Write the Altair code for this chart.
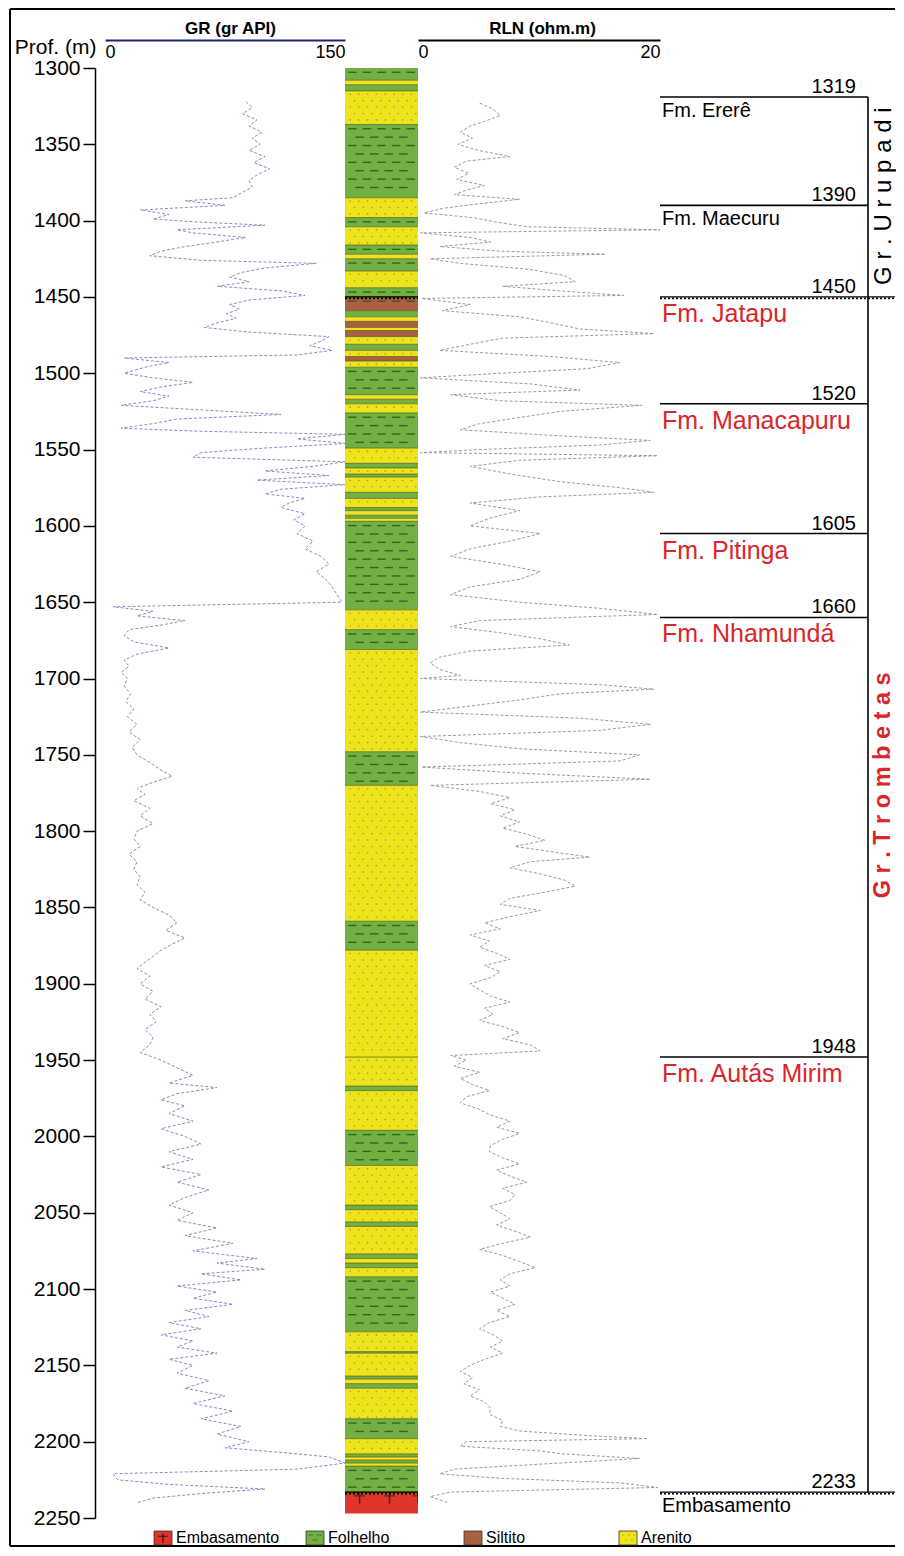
import altair as alt
import pandas as pd

# ---------------- data ----------------
gr_depth = [1322, 1326, 1330, 1334, 1338, 1342, 1346, 1350, 1354, 1358, 1362, 1366, 1370, 1374, 1378,
            1382, 1385, 1387, 1390, 1393, 1396, 1399, 1401, 1403, 1406, 1408, 1411, 1414, 1417, 1420,
            1423, 1426, 1428, 1431, 1434, 1437, 1440, 1443, 1446, 1449, 1452, 1455, 1458, 1461, 1464,
            1467, 1470, 1473, 1476, 1479, 1482, 1485, 1488, 1490, 1493, 1496, 1500, 1503, 1506, 1509,
            1512, 1515, 1518, 1521, 1524, 1527, 1530, 1533, 1536, 1538, 1540, 1543, 1546, 1549, 1552,
            1555, 1558, 1561, 1564, 1567, 1570, 1573, 1576, 1579, 1582, 1585, 1588, 1592, 1596, 1600,
            1605, 1610, 1615, 1620, 1625, 1630, 1635, 1640, 1645, 1650, 1653, 1656, 1659, 1662, 1665,
            1668, 1672, 1676, 1680, 1684, 1688, 1692, 1696, 1700, 1705, 1710, 1715, 1720, 1725, 1730,
            1735, 1740, 1745, 1750, 1755, 1760, 1764, 1768, 1772, 1776, 1780, 1785, 1790, 1795, 1800,
            1805, 1810, 1815, 1820, 1825, 1830, 1835, 1840, 1845, 1850, 1855, 1860, 1865, 1870, 1874,
            1878, 1882, 1886, 1890, 1895, 1900, 1905, 1910, 1915, 1920, 1925, 1930, 1935, 1940, 1945,
            1950, 1955, 1960, 1965, 1968, 1972, 1976, 1980, 1985, 1990, 1995, 2000, 2005, 2010, 2015,
            2020, 2025, 2030, 2035, 2040, 2045, 2050, 2055, 2060, 2065, 2070, 2075, 2080, 2083, 2087,
            2090, 2094, 2098, 2102, 2106, 2110, 2114, 2118, 2122, 2126, 2130, 2134, 2138, 2142, 2146,
            2150, 2155, 2160, 2165, 2170, 2175, 2180, 2185, 2190, 2195, 2200, 2204, 2207, 2210, 2214,
            2218, 2221, 2225, 2228, 2231, 2234, 2237, 2240]
gr_value = [88, 92, 86, 95, 90, 98, 92, 97, 90, 100, 93, 103, 95, 90, 92,
            85, 80, 50, 75, 22, 40, 30, 60, 100, 45, 55, 88, 70, 50, 35,
            28, 60, 132, 100, 85, 78, 90, 70, 110, 125, 90, 78, 84, 76, 82,
            70, 62, 90, 140, 135, 128, 142, 120, 12, 40, 25, 12, 30, 55, 35,
            22, 40, 30, 10, 60, 110, 45, 30, 10, 60, 150, 120, 150, 100, 60,
            55, 150, 130, 100, 140, 95, 150, 110, 100, 125, 115, 110, 125, 118, 125,
            120, 130, 125, 135, 140, 132, 138, 142, 145, 148, 5, 30, 20, 50, 35,
            15, 12, 18, 40, 20, 12, 15, 10, 14, 12, 16, 13, 18, 14, 20,
            15, 22, 17, 20, 28, 35, 42, 30, 20, 25, 18, 28, 22, 30, 20,
            18, 22, 15, 20, 18, 22, 20, 25, 22, 30, 40, 45, 38, 50, 42,
            35, 30, 25, 20, 28, 22, 30, 25, 35, 28, 32, 25, 30, 28, 22,
            35, 45, 55, 40, 70, 45, 35, 50, 40, 55, 35, 50, 60, 40, 55,
            35, 60, 45, 65, 50, 40, 55, 45, 70, 50, 80, 55, 95, 70, 100,
            60, 85, 45, 70, 55, 80, 50, 65, 40, 60, 35, 55, 45, 70, 40,
            55, 45, 65, 50, 75, 55, 80, 60, 85, 70, 90, 75, 110, 140, 150,
            120, 5, 8, 40, 100, 60, 30, 20]

rln_depth = [1323, 1327, 1331, 1335, 1338, 1342, 1346, 1350, 1354, 1358, 1361, 1365, 1369, 1373, 1377,
             1380, 1383, 1386, 1389, 1392, 1395, 1398, 1401, 1404, 1406, 1408, 1411, 1414, 1417, 1420,
             1422, 1425, 1428, 1432, 1436, 1440, 1443, 1446, 1449, 1451, 1455, 1459, 1463, 1467, 1471,
             1474, 1477, 1481, 1485, 1489, 1493, 1497, 1500, 1503, 1507, 1511, 1514, 1518, 1521, 1525,
             1529, 1533, 1537, 1541, 1544, 1547, 1550, 1552, 1554, 1557, 1561, 1566, 1571, 1575, 1578,
             1581, 1585, 1590, 1595, 1600, 1605, 1610, 1615, 1620, 1625, 1630, 1635, 1640, 1645, 1650,
             1654, 1658, 1662, 1666, 1670, 1674, 1678, 1682, 1686, 1690, 1694, 1698, 1700, 1704, 1707,
             1710, 1714, 1718, 1722, 1726, 1730, 1734, 1738, 1742, 1746, 1750, 1754, 1758, 1762, 1766,
             1770, 1774, 1778, 1782, 1786, 1790, 1794, 1798, 1802, 1806, 1810, 1814, 1817, 1820, 1824,
             1828, 1832, 1836, 1840, 1844, 1848, 1852, 1856, 1860, 1864, 1868, 1872, 1876, 1880, 1884,
             1888, 1892, 1896, 1900, 1904, 1908, 1912, 1916, 1920, 1924, 1928, 1932, 1936, 1940, 1944,
             1947, 1950, 1954, 1958, 1962, 1966, 1970, 1974, 1978, 1982, 1986, 1990, 1994, 1998, 2002,
             2006, 2010, 2014, 2018, 2022, 2026, 2030, 2034, 2038, 2042, 2046, 2050, 2054, 2058, 2062,
             2066, 2070, 2074, 2078, 2082, 2086, 2090, 2094, 2098, 2102, 2106, 2110, 2114, 2118, 2122,
             2126, 2130, 2134, 2138, 2142, 2146, 2150, 2154, 2158, 2162, 2166, 2170, 2174, 2178, 2182,
             2186, 2190, 2193, 2196, 2198, 2200, 2203, 2206, 2208, 2211, 2214, 2218, 2221, 2224, 2227,
             2230, 2233, 2236, 2240]
rln_value = [5.1, 6.2, 6.8, 5.5, 4.3, 3.5, 4.5, 3.3, 5.0, 7.6, 4.0, 3.0, 4.2, 3.2, 5.5,
             4.0, 3.0, 8.4, 5.0, 2.0, 0.5, 4.5, 6.5, 9.0, 20.0, 0.2, 4.3, 6.0, 1.8, 6.8,
             15.5, 1.0, 3.5, 9.3, 12.1, 13.0, 7.0, 11.7, 17.0, 0.3, 4.3, 2.0, 8.4, 11.0, 13.4,
             19.5, 7.0, 4.3, 1.8, 10.9, 16.7, 14.0, 6.8, 0.2, 9.3, 13.4, 2.7, 6.8, 18.5, 11.7,
             8.4, 5.1, 3.5, 11.7, 19.2, 15.0, 5.1, 0.2, 19.8, 8.4, 4.3, 7.6, 11.7, 16.7, 19.5,
             10.1, 4.3, 8.4, 5.9, 4.3, 10.1, 7.6, 4.3, 2.7, 6.8, 10.1, 8.4, 4.3, 2.7, 8.4,
             15.0, 19.8, 5.1, 2.7, 6.8, 10.1, 12.5, 4.3, 1.8, 1.0, 1.8, 3.5, 0.2, 15.0, 19.5,
             11.7, 8.4, 4.3, 0.2, 13.4, 19.2, 15.0, 0.2, 3.5, 8.4, 18.3, 16.7, 0.3, 8.4, 19.2,
             1.0, 5.1, 7.6, 6.0, 8.0, 6.8, 8.4, 7.0, 9.0, 10.5, 8.0, 11.5, 14.2, 9.3, 7.6,
             10.1, 12.1, 13.0, 10.5, 7.6, 6.8, 10.1, 7.6, 5.5, 6.8, 4.3, 5.9, 5.1, 6.5, 7.6,
             5.5, 6.8, 6.0, 4.3, 5.1, 6.0, 7.6, 5.5, 6.2, 5.1, 7.0, 8.4, 7.0, 9.3, 10.1,
             2.7, 4.0, 3.0, 5.1, 3.5, 4.5, 5.9, 4.0, 3.5, 5.0, 6.0, 7.6, 6.5, 8.4, 7.0,
             6.0, 5.9, 7.0, 8.4, 6.5, 7.6, 9.0, 7.0, 8.0, 7.6, 5.9, 6.8, 7.6, 6.5, 8.0,
             9.3, 7.0, 5.1, 7.0, 8.4, 9.7, 7.6, 6.8, 7.6, 6.0, 7.0, 8.0, 6.5, 7.6, 5.9,
             5.1, 6.2, 7.0, 6.0, 7.0, 5.5, 4.3, 3.5, 4.5, 3.8, 5.1, 4.3, 5.5, 6.0, 5.9,
             7.0, 6.8, 8.4, 14.0, 19.0, 4.0, 3.5, 10.0, 12.0, 18.3, 11.7, 3.0, 1.8, 6.8, 16.7,
             19.8, 2.7, 1.0, 2.5]

litho_names = ["Embasamento", "Folhelho", "Siltito", "Arenito"]
litho_colors = ["#e0352b", "#72b043", "#a8603f", "#efe31c"]
litho_code = {"E": "Embasamento", "F": "Folhelho", "S": "Siltito", "A": "Arenito"}

lith_type = ["F", "A", "F", "A", "F", "A", "F", "A", "F", "A", "F", "A", "F", "S", "F",
             "A", "S", "A", "S", "A", "F", "A", "S", "A", "F", "A", "F", "A", "F", "A",
             "F", "A", "F", "A", "F", "A", "F", "A", "F", "A", "F", "A", "F", "A", "F",
             "A", "F", "A", "A", "F", "A", "F", "A", "F", "A", "F", "A", "F", "A", "F",
             "A", "F", "A", "F", "A", "F", "A", "F", "A", "F", "A", "F", "A", "F", "A",
             "F", "E"]
lith_top = [1300, 1308, 1311, 1315, 1337, 1385, 1398, 1404, 1416, 1422, 1425, 1433, 1444, 1450, 1459,
            1463, 1466, 1470, 1472, 1476, 1481, 1485, 1489, 1492, 1496, 1514, 1517, 1520, 1526, 1549,
            1559, 1562, 1566, 1568, 1578, 1582, 1588, 1590, 1593, 1595, 1597, 1655, 1668, 1681, 1748,
            1770, 1859, 1878, 1948, 1967, 1970, 1996, 2019, 2045, 2048, 2056, 2059, 2077, 2080, 2083,
            2086, 2092, 2128, 2141, 2142, 2157, 2159, 2162, 2165, 2185, 2198, 2208, 2210, 2212, 2214,
            2216, 2233]
lith_base = lith_top[1:] + [2247]

fm_depth = [1319, 1390, 1450, 1520, 1605, 1660, 1948, 2233]
fm_name = ["Fm. Ererê", "Fm. Maecuru", "Fm. Jatapu", "Fm. Manacapuru", "Fm. Pitinga",
           "Fm. Nhamundá", "Fm. Autás Mirim", "Embasamento"]
fm_group = ["Urupadi", "Urupadi", "Trombetas", "Trombetas", "Trombetas", "Trombetas",
            "Trombetas", "Embasamento"]
fm_contact = ["normal", "normal", "erosive", "normal", "normal", "normal", "normal", "erosive"]

group_name = ["Gr. Urupadi", "Gr. Trombetas"]
group_top = [1319, 1450]
group_base = [1450, 2233]
group_label_depth = [1384, 1770]
group_bold = ["normal", "bold"]

depth_ticks = list(range(1300, 2251, 50))

# ---------------- layout / style ----------------
FONT = "Liberation Sans"
RED = "#d9262b"
H = 1450
W_GR, W_LITH, W_RLN, W_FM = 240, 73, 242, 235
BRACKET_X = 208
FRAME_BOTTOM = 1478
LEG_Y = 1470

ysc = alt.Scale(domain=[1300, 2250], reverse=True, nice=False, zero=False)
fsc = alt.Scale(domain=[0, 1], nice=False, zero=False)
one = pd.DataFrame({"k": [0]})

# ---------------- GR panel ----------------
gr_df = pd.DataFrame({"depth": gr_depth, "gr": gr_value})
gr_line = alt.Chart(gr_df).mark_line(
    color="#7d7db8", strokeWidth=1, strokeDash=[3, 2], clip=True, opacity=0.9
).encode(
    x=alt.X("gr:Q", scale=alt.Scale(domain=[0, 150], nice=False, zero=False),
            axis=alt.Axis(orient="top", values=[0, 150], offset=28, ticks=False, tickSize=0,
                          grid=False, domainColor="#1c2470", domainWidth=2,
                          labelPadding=-3, labelBaseline="top", labelFlush=True,
                          labelFontSize=18, labelColor="black", labelFont=FONT,
                          title="GR (gr API)", titleFontSize=17, titleFontWeight="bold",
                          titleFont=FONT, titleColor="black", titleX=125, titleY=-3,
                          titleBaseline="bottom", titleAlign="center")),
    y=alt.Y("depth:Q", scale=ysc,
            axis=alt.Axis(orient="left", offset=10, values=depth_ticks, format="d", tickSize=12,
                          tickWidth=1.5, tickColor="black", domainColor="black",
                          domainWidth=1.5, labelFontSize=21, labelColor="black",
                          labelFont=FONT, labelPadding=3, grid=False,
                          title="Prof. (m)", titleAngle=0, titleAlign="right",
                          titleX=1, titleY=-21, titleBaseline="middle", titleFontSize=21,
                          titleFontWeight="normal", titleFont=FONT, titleColor="black")),
    order="depth:Q",
)

frame_top = alt.Chart(one).mark_rule(color="black", strokeWidth=2).encode(
    x=alt.value(-95), x2=alt.value(790), y=alt.value(-59))
frame_left = alt.Chart(one).mark_rule(color="black", strokeWidth=2).encode(
    x=alt.value(-95), y=alt.value(-59), y2=alt.value(FRAME_BOTTOM))
frame_bottom = alt.Chart(one).mark_rule(color="black", strokeWidth=2).encode(
    x=alt.value(-95), x2=alt.value(790), y=alt.value(FRAME_BOTTOM))

legend_layers = []
legend_swatch_x = [49, 201, 359, 514]
for name, sx in zip(litho_names, legend_swatch_x):
    col = litho_colors[litho_names.index(name)]
    ldf = pd.DataFrame({"name": [name]})
    legend_layers.append(alt.Chart(ldf).mark_rect(fill=col, stroke="#333333", strokeWidth=0.8).encode(
        x=alt.value(sx), x2=alt.value(sx + 18), y=alt.value(LEG_Y - 7), y2=alt.value(LEG_Y + 7)))
    legend_layers.append(alt.Chart(ldf).mark_text(
        align="left", baseline="middle", fontSize=16, font=FONT, color="black").encode(
        text="name:N", x=alt.value(sx + 22), y=alt.value(LEG_Y)))
# swatch textures (cross / dashes / dots)
legend_layers.append(alt.Chart(one).mark_point(
    shape="M-1,-0.5L1,-0.5L1,-0.25L-1,-0.25Z M-0.14,-0.9L0.14,-0.9L0.14,1L-0.14,1Z",
    filled=True, color="black", size=90, strokeWidth=0).encode(
    x=alt.value(legend_swatch_x[0] + 9), y=alt.value(LEG_Y)))
for dx, dy in [(5, -3), (13, -3), (9, 2)]:
    legend_layers.append(alt.Chart(one).mark_point(
        shape="M-1,-0.2L1,-0.2L1,0.2L-1,0.2Z", filled=True, color="#2c5a1a", size=25,
        strokeWidth=0).encode(x=alt.value(legend_swatch_x[1] + dx), y=alt.value(LEG_Y + dy)))
for dx, dy in [(4, -3), (10, -3), (15, -3), (7, 2), (13, 2)]:
    legend_layers.append(alt.Chart(one).mark_circle(size=2.5, color="#8f8a2a").encode(
        x=alt.value(legend_swatch_x[3] + dx), y=alt.value(LEG_Y + dy)))

gr_panel = alt.layer(gr_line, frame_top, frame_left, frame_bottom, *legend_layers).properties(
    width=W_GR, height=H)

# ---------------- Lithology panel ----------------
lith_df = pd.DataFrame({"type": [litho_code[c] for c in lith_type], "top": lith_top,
                        "base": lith_base})

rects = alt.Chart(lith_df).mark_rect().encode(
    x=alt.value(0), x2=alt.value(W_LITH),
    y=alt.Y("top:Q", scale=ysc, axis=None), y2="base:Q",
    color=alt.Color("type:N", scale=alt.Scale(domain=litho_names, range=litho_colors), legend=None),
)

dash_rows, dot_rows, cross_rows = [], [], []
for t, a, b in zip(lith_df["type"], lith_top, lith_base):
    if t in ("Folhelho", "Siltito") and b - a >= 4.5:
        d, k = a + 2.8, 0
        while d < b - 1.5:
            xs = [0.1, 0.3, 0.5, 0.7, 0.9] if k % 2 == 0 else [0.2, 0.4, 0.6, 0.8]
            for xf in xs:
                dash_rows.append({"depth": d, "f": xf})
            d += 5.5
            k += 1
    elif t == "Arenito":
        d, k = a + 2.2, 0
        while d < b - 1.0:
            xs = [0.07 + 0.12 * i for i in range(8)] if k % 2 == 0 else [0.13 + 0.12 * i for i in range(8)]
            for xf in xs:
                dot_rows.append({"depth": d, "f": xf})
            d += 4.2
            k += 1
    elif t == "Embasamento":
        for xf in [0.2, 0.61, 1.0]:
            cross_rows.append({"depth": a + 4, "f": xf})

dashes = alt.Chart(pd.DataFrame(dash_rows)).mark_point(
    shape="M-1,-0.16L1,-0.16L1,0.16L-1,0.16Z", filled=True, size=72,
    color="#2c5a1a", opacity=0.9, strokeWidth=0).encode(
    x=alt.X("f:Q", scale=fsc, axis=None), y=alt.Y("depth:Q", scale=ysc, axis=None))
dots = alt.Chart(pd.DataFrame(dot_rows)).mark_circle(size=2.5, color="#8f8a2a", opacity=0.8).encode(
    x=alt.X("f:Q", scale=fsc, axis=None), y=alt.Y("depth:Q", scale=ysc, axis=None))
crosses = alt.Chart(pd.DataFrame(cross_rows)).mark_point(
    shape="M-1,-0.55L1,-0.55L1,-0.3L-1,-0.3Z M-0.14,-0.9L0.14,-0.9L0.14,1L-0.14,1Z",
    filled=True, size=120, color="#1a1a1a", strokeWidth=0, clip=True).encode(
    x=alt.X("f:Q", scale=fsc, axis=None), y=alt.Y("depth:Q", scale=ysc, axis=None))
bounds_lines = alt.Chart(lith_df.iloc[1:]).mark_rule(color="#4d5a1c", strokeWidth=0.9, opacity=0.75).encode(
    x=alt.value(0), x2=alt.value(W_LITH), y=alt.Y("top:Q", scale=ysc, axis=None))

fm_df = pd.DataFrame({"depth": fm_depth, "name": fm_name, "group": fm_group,
                      "contact": fm_contact, "label": [str(v) for v in fm_depth]})
ero = alt.Chart(fm_df).transform_filter("datum.contact == 'erosive'")
lith_wavy1 = ero.mark_rule(color="black", strokeWidth=1.2).encode(
    x=alt.value(0), x2=alt.value(W_LITH), y=alt.Y("depth:Q", scale=ysc, axis=None))
lith_wavy2 = ero.mark_rule(color="black", strokeWidth=1.8, strokeDash=[2, 2], yOffset=1.5).encode(
    x=alt.value(0), x2=alt.value(W_LITH), y=alt.Y("depth:Q", scale=ysc, axis=None))

lith_panel = alt.layer(rects, dots, dashes, crosses, bounds_lines, lith_wavy1, lith_wavy2).properties(
    width=W_LITH, height=H)

# ---------------- RLN panel ----------------
rln_df = pd.DataFrame({"depth": rln_depth, "rln": rln_value})
rln_panel = alt.Chart(rln_df).mark_line(
    color="#8e8e8e", strokeWidth=1, strokeDash=[3, 2], clip=True, opacity=0.9
).encode(
    x=alt.X("rln:Q", scale=alt.Scale(domain=[0, 20], nice=False, zero=False),
            axis=alt.Axis(orient="top", values=[0, 20], offset=28, ticks=False, tickSize=0,
                          grid=False, domainColor="black", domainWidth=2,
                          labelPadding=-3, labelBaseline="top", labelFlush=True,
                          labelFontSize=18, labelColor="black", labelFont=FONT,
                          title="RLN (ohm.m)", titleFontSize=17, titleFontWeight="bold",
                          titleFont=FONT, titleColor="black", titleX=124, titleY=-3,
                          titleBaseline="bottom", titleAlign="center")),
    y=alt.Y("depth:Q", scale=ysc, axis=None),
    order="depth:Q",
).properties(width=W_RLN, height=H)

# ---------------- Formation panel ----------------
fmb = alt.Chart(fm_df)
yenc = alt.Y("depth:Q", scale=ysc, axis=None)
fm_lines = fmb.transform_filter("datum.contact == 'normal'").mark_rule(
    color="black", strokeWidth=1.6).encode(x=alt.value(0), x2=alt.value(BRACKET_X), y=yenc)
fm_wavy1 = ero.mark_rule(color="black", strokeWidth=1.2).encode(
    x=alt.value(0), x2=alt.value(W_FM), y=yenc)
fm_wavy2 = ero.mark_rule(color="black", strokeWidth=1.8, strokeDash=[2, 2], yOffset=1.5).encode(
    x=alt.value(0), x2=alt.value(W_FM), y=yenc)
fm_numbers = fmb.mark_text(align="right", baseline="alphabetic", dy=-4, fontSize=20,
                           font=FONT, color="black").encode(
    x=alt.value(BRACKET_X - 12), y=yenc, text="label:N")
fm_names_black = fmb.transform_filter("datum.group != 'Trombetas'").mark_text(
    align="left", baseline="alphabetic", dy=20, fontSize=20, font=FONT, color="black").encode(
    x=alt.value(2), y=yenc, text="name:N")
fm_names_red = fmb.transform_filter("datum.group == 'Trombetas'").mark_text(
    align="left", baseline="alphabetic", dy=25, fontSize=25, font=FONT, color=RED).encode(
    x=alt.value(2), y=yenc, text="name:N")

grp_df = pd.DataFrame({"name": group_name, "top": group_top, "base": group_base,
                       "mid": group_label_depth, "weight": group_bold})
grp_df["spaced"] = [" ".join(list(n)) for n in group_name]
bracket = alt.Chart(grp_df).mark_rule(color="black", strokeWidth=1.6).encode(
    x=alt.value(BRACKET_X), y=alt.Y("top:Q", scale=ysc, axis=None), y2="base:Q")
grp_u = alt.Chart(grp_df).transform_filter("datum.weight == 'normal'").mark_text(
    angle=270, align="center", baseline="middle", fontSize=24, font=FONT, color="black").encode(
    x=alt.value(BRACKET_X + 16), y=alt.Y("mid:Q", scale=ysc, axis=None), text="spaced:N")
grp_t = alt.Chart(grp_df).transform_filter("datum.weight == 'bold'").mark_text(
    angle=270, align="center", baseline="middle", fontSize=23.5, font=FONT, fontWeight="bold",
    color=RED).encode(
    x=alt.value(BRACKET_X + 15), y=alt.Y("mid:Q", scale=ysc, axis=None), text="spaced:N")

fm_panel = alt.layer(fm_lines, fm_wavy1, fm_wavy2, fm_numbers, fm_names_black, fm_names_red,
                     bracket, grp_u, grp_t).properties(width=W_FM, height=H)

chart = alt.HConcatChart(
    hconcat=[gr_panel, lith_panel, rln_panel, fm_panel], spacing=0, bounds="flush",
    padding={"left": 1, "top": 0, "right": 0, "bottom": 0},
).configure(font=FONT, view=alt.ViewConfig(stroke=None))

chart.save("out.html", embed_options={"renderer": "svg", "actions": False})
